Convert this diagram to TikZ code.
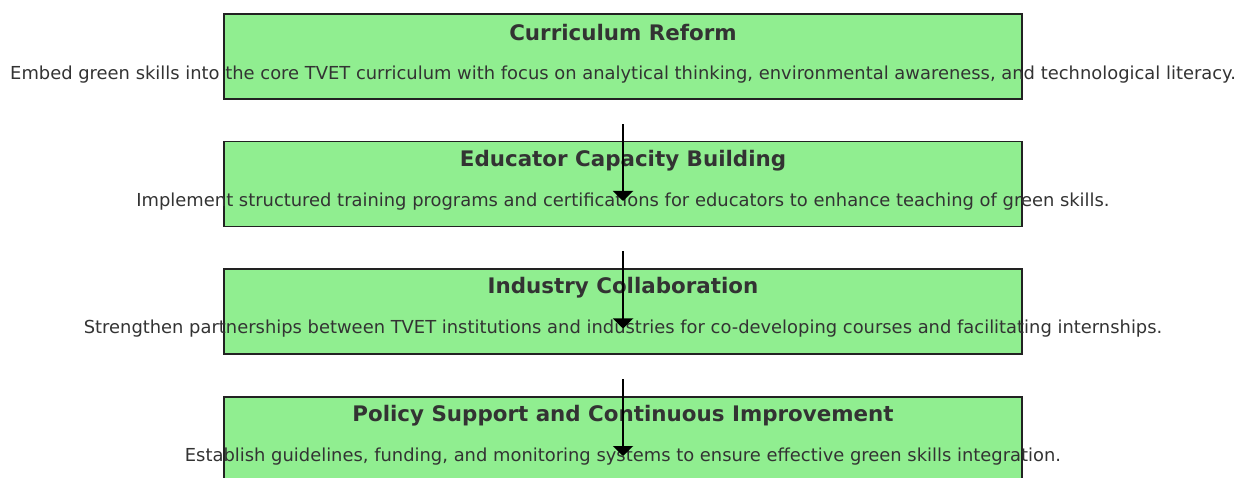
\documentclass[tikz,border=0pt]{standalone}
\usepackage{fontspec}
\setmainfont{DejaVu Sans}
\usetikzlibrary{arrows.meta}
\definecolor{boxfill}{HTML}{90EE90}
\definecolor{txt}{HTML}{333333}
\definecolor{edge}{HTML}{222222}
\tikzset{
  stagebox/.style={draw=edge, line width=1.6pt, fill=boxfill, minimum width=798pt, minimum height=85pt, inner sep=0pt},
  titletxt/.style={text=txt, font=\fontsize{21.4}{25}\selectfont\bfseries, inner sep=0pt},
  desctxt/.style={text=txt, font=\fontsize{17.9}{21}\selectfont, inner sep=0pt},
  flow/.style={draw=black, line width=2.2pt, -{Triangle[width=20pt,length=10pt]}}
}
\begin{document}
\begin{tikzpicture}[x=1pt,y=-1pt]
\useasboundingbox (0,0) rectangle (1237,478);
\clip (0,0) rectangle (1237,478);
\node[stagebox] (b1) at (623,56.5) {};
\node[stagebox] (b2) at (623,184) {};
\node[stagebox] (b3) at (623,311.5) {};
\node[stagebox] (b4) at (623,439.5) {};
\node[titletxt] (t1) at (623,32.5) {Curriculum Reform};
\node[desctxt] (d1) at (623,74.5) {Embed green skills into the core TVET curriculum with focus on analytical thinking, environmental awareness, and technological literacy.};
\node[titletxt] (t2) at (623,160.5) {Educator Capacity Building};
\node[desctxt] (d2) at (623,201.5) {Implement structured training programs and certifications for educators to enhance teaching of green skills.};
\node[titletxt] (t3) at (623,288) {Industry Collaboration};
\node[desctxt] (d3) at (623,329) {Strengthen partnerships between TVET institutions and industries for co-developing courses and facilitating internships.};
\node[titletxt] (t4) at (623,415.5) {Policy Support and Continuous Improvement};
\node[desctxt] (d4) at (623,456.5) {Establish guidelines, funding, and monitoring systems to ensure effective green skills integration.};
\draw[flow] ([yshift=-50pt]d1.center) -- ([yshift=0.5pt]d2.center);
\draw[flow] ([yshift=-50pt]d2.center) -- ([yshift=0.5pt]d3.center);
\draw[flow] ([yshift=-50pt]d3.center) -- ([yshift=0.5pt]d4.center);
\end{tikzpicture}
\end{document}
